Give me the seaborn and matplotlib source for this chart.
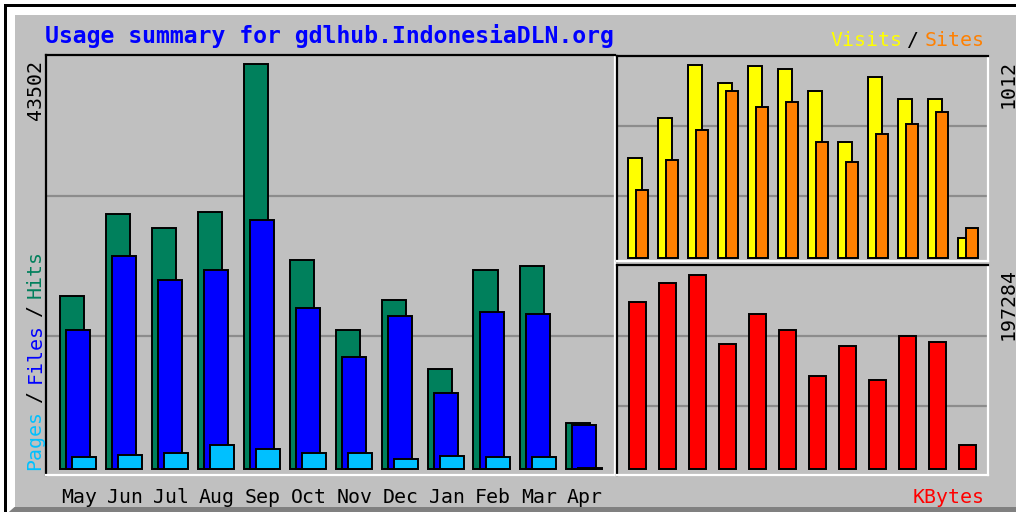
import numpy as np
import pandas as pd
import matplotlib
matplotlib.use("Agg")
import matplotlib.pyplot as plt
import seaborn as sns
from matplotlib.patches import Rectangle, Polygon

# ---------------- data ----------------
months = ["May", "Jun", "Jul", "Aug", "Sep", "Oct", "Nov", "Dec", "Jan", "Feb", "Mar", "Apr"]
hits = [18598, 27437, 25898, 27650, 43502, 22446, 14964, 18170, 10763, 21377, 21837, 4917]
files = [14964, 22906, 20308, 21377, 26754, 17315, 12003, 16460, 8123, 16888, 16674, 4703]
pages = [1250, 1496, 1710, 2565, 2138, 1710, 1710, 1069, 1425, 1250, 1250, 150]
visits = [524, 732, 1012, 920, 1008, 990, 877, 606, 948, 834, 834, 107]
sites = [358, 514, 669, 877, 794, 816, 606, 502, 649, 701, 763, 159]
kbytes = [169400, 189530, 197284, 126825, 157720, 141220, 94615, 124810, 90590, 134875, 129140, 24460]
max_hits_label = "43502"
max_visits_label = "1012"
max_kbytes_label = "197284"
title = "Usage summary for gdlhub.IndonesiaDLN.org"

# ---------------- style ----------------
sns.set_style("white")
plt.rcParams["font.family"] = ["DejaVu Sans Mono", "DejaVu Sans"]

BG = "#c0c0c0"
GRID = "#8c8c8c"
C_HITS = "#00805c"
C_FILES = "#0000ff"
C_PAGES = "#00c0ff"
C_VISITS = "#ffff00"
C_SITES = "#ff8000"
C_KB = "#ff0000"

W, H = 1016, 512
fig = plt.figure(figsize=(W / 100, H / 100), dpi=100)
fig.patch.set_facecolor("white")


def fx(x):
    return x / W


def fy(y):
    return 1 - y / H


def prect(x0, y0, x1, y1, color, z=-10):
    fig.add_artist(Rectangle((fx(x0), fy(y1)), (x1 - x0) / W, (y1 - y0) / H,
                             transform=fig.transFigure, facecolor=color,
                             edgecolor="none", zorder=z))


# frame (webalizer style bevel)
prect(4, 4, W + 10, H + 10, "black", -12)
prect(6.5, 6.5, W + 10, H + 10, "white", -11)
fig.add_artist(Polygon([(fx(6.5), fy(H + 2)), (fx(14.5), fy(507)), (fx(W + 5), fy(507)),
                        (fx(W + 5), fy(H + 2))], closed=True, transform=fig.transFigure,
                       facecolor="#808080", edgecolor="none", zorder=-10))
prect(14.5, 14.5, W + 10, 507, BG, -9)


def make_panel(x0, y0, x1, y1, xc0, pitch, ybase, ytop, vmax, grid_px):
    ax = fig.add_axes([fx(x0), fy(y1), (x1 - x0) / W, (y1 - y0) / H])
    ax.set_facecolor(BG)
    k = (ybase - ytop) / vmax
    lims = dict(x=((x0 - xc0) / pitch, (x1 - xc0) / pitch),
                y=(-(y1 - ybase) / k, (ybase - y0) / k))
    for gy in grid_px:
        ax.axhline((ybase - gy) / k, color=GRID, lw=1.6, zorder=0)
    return ax, lims


def finish(ax, lims):
    ax.set_xlim(*lims["x"])
    ax.set_ylim(*lims["y"])
    ax.set_xticks([])
    ax.set_yticks([])
    ax.set_xlabel("")
    ax.set_ylabel("")
    for s in ["top", "left"]:
        ax.spines[s].set_color("black")
        ax.spines[s].set_linewidth(1.6)
    for s in ["bottom", "right"]:
        ax.spines[s].set_color("white")
        ax.spines[s].set_linewidth(1.6)
    for s in ax.spines.values():
        s.set_visible(True)


def bars(ax, vals, offset, width, color):
    df = pd.DataFrame({"pos": np.arange(len(vals)) + offset, "val": vals})
    sns.barplot(data=df, x="pos", y="val", native_scale=True, width=width,
                color=color, saturation=1, edgecolor="black", linewidth=1.4,
                errorbar=None, ax=ax, zorder=2)


# ---- left panel: hits / files / pages ----
pitch_l = 46.0
axL, limL = make_panel(46, 55, 615, 475, 71.75, pitch_l, 469, 64.3, max(hits), [196, 336])
bars(axL, hits, 0.0, 24.5 / pitch_l, C_HITS)
bars(axL, files, 6.0 / pitch_l, 24.5 / pitch_l, C_FILES)
bars(axL, pages, 12.3 / pitch_l, 23.7 / pitch_l, C_PAGES)
finish(axL, limL)

# ---- right top: visits / sites ----
pitch_r = 30.0
axT, limT = make_panel(617, 56, 988, 261, 634.7, pitch_r, 258, 65, max(visits), [126, 196])
bars(axT, visits, 0.0, 14 / pitch_r, C_VISITS)
bars(axT, sites, 7.3 / pitch_r, 12 / pitch_r, C_SITES)
finish(axT, limT)

# ---- right bottom: kbytes ----
axB, limB = make_panel(617, 265, 988, 475, 637.8, pitch_r, 469, 275, max(kbytes), [336, 406])
bars(axB, kbytes, 0.0, 17 / pitch_r, C_KB)
finish(axB, limB)

# ---------------- texts ----------------
FS = 14.3
fig.text(fx(45), fy(36), title, color="#0000ff", fontsize=16.7, fontweight="bold",
         ha="left", va="center")

for i, m in enumerate(months):
    fig.text(fx(79 + pitch_l * i), fy(503), m, color="black", fontsize=FS,
             ha="center", va="baseline")

fig.text(fx(830), fy(40), "Visits", color=C_VISITS, fontsize=FS, ha="left", va="center")
fig.text(fx(912), fy(40), "/", color="black", fontsize=FS, ha="center", va="center")
fig.text(fx(985), fy(40), "Sites", color=C_SITES, fontsize=FS, ha="right", va="center")
fig.text(fx(985), fy(503), "KBytes", color=C_KB, fontsize=FS, ha="right", va="baseline")

fig.text(fx(35), fy(60), max_hits_label, rotation=90, color="black", fontsize=FS,
         ha="center", va="top")
fig.text(fx(1008), fy(60), max_visits_label, rotation=90, color="black", fontsize=FS,
         ha="center", va="top")
fig.text(fx(1008), fy(268), max_kbytes_label, rotation=90, color="black", fontsize=FS,
         ha="center", va="top")

fig.text(fx(35), fy(470), "Pages", rotation=90, color=C_PAGES, fontsize=FS, ha="center", va="bottom")
fig.text(fx(35), fy(397), "/", rotation=90, color="black", fontsize=FS, ha="center", va="center")
fig.text(fx(35), fy(383), "Files", rotation=90, color=C_FILES, fontsize=FS, ha="center", va="bottom")
fig.text(fx(35), fy(311), "/", rotation=90, color="black", fontsize=FS, ha="center", va="center")
fig.text(fx(35), fy(298), "Hits", rotation=90, color=C_HITS, fontsize=FS, ha="center", va="bottom")

fig.savefig("out.png", dpi=100, facecolor=fig.get_facecolor())
